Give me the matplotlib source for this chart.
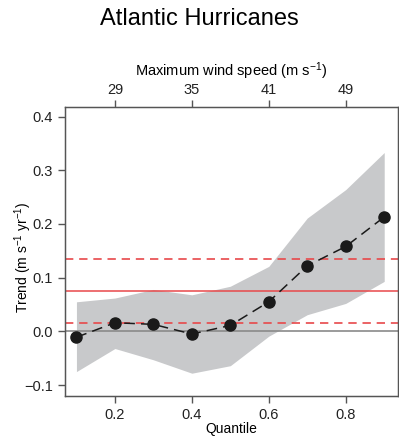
import matplotlib
matplotlib.use("Agg")
import matplotlib.pyplot as plt

plt.rcParams['font.family'] = ['Liberation Sans', 'DejaVu Sans']
plt.rcParams['mathtext.fontset'] = 'custom'
plt.rcParams['mathtext.rm'] = 'Liberation Sans'
plt.rcParams['mathtext.default'] = 'regular'

# quantiles and trend estimates
quantile = [0.1, 0.2, 0.3, 0.4, 0.5, 0.6, 0.7, 0.8, 0.9]
trend = [-0.011, 0.016, 0.013, -0.005, 0.011, 0.055, 0.122, 0.158, 0.213]
upper = [0.055, 0.062, 0.078, 0.068, 0.084, 0.121, 0.211, 0.264, 0.333]
lower = [-0.075, -0.032, -0.053, -0.078, -0.064, -0.009, 0.031, 0.052, 0.093]

mean_trend = 0.075
mean_ci = [0.015, 0.135]

top_ticks = [0.2, 0.4, 0.6, 0.8]
top_labels = ['29', '35', '41', '49']

fig = plt.figure(figsize=(3.99, 4.42), dpi=100)
ax = fig.add_axes([0.1617, 0.104, 0.835, 0.655])

ax.fill_between(quantile, lower, upper, color='#c8c9cb', lw=0, zorder=1)
ax.axhline(0, color='#8a8a8a', lw=1.2, zorder=2)
ax.axhline(mean_trend, color='#e8484a', lw=1.1, zorder=2)
for v in mean_ci:
    ax.axhline(v, color='#e8484a', lw=1.2, ls=(0, (5, 3.5)), zorder=2)
ax.plot(quantile, trend, color='#1a1a1a', lw=1.1, ls=(0, (7, 4)), zorder=3)
ax.plot(quantile, trend, 'o', color='#1a1a1a', ms=8, zorder=4)

ax.set_xlim(0.069, 0.935)
ax.set_ylim(-0.1205, 0.4187)
ax.set_xticks([0.2, 0.4, 0.6, 0.8])
ax.set_yticks([-0.1, 0.0, 0.1, 0.2, 0.3, 0.4])
ax.set_yticklabels(['\u22120.1', '0.0', '0.1', '0.2', '0.3', '0.4'])
ax.set_xlabel('Quantile', fontsize=10, labelpad=0)
ax.set_ylabel('Trend (m s$^{\u22121}$ yr$^{\u22121}$)', fontsize=10)
ax.yaxis.set_label_coords(-0.092, 0.48)

for s in ax.spines.values():
    s.set_color('#555555')
    s.set_linewidth(1.0)
ax.tick_params(colors='#555555', labelcolor='#222222', labelsize=10.5, length=5, width=1)

top = ax.twiny()
top.set_xlim(ax.get_xlim())
top.set_xticks(top_ticks)
top.set_xticklabels(top_labels)
top.set_xlabel('Maximum wind speed (m s$^{\u22121}$)', fontsize=10.5, labelpad=5)
top.tick_params(colors='#555555', labelcolor='#222222', labelsize=10.5, length=5, width=1, pad=2)
for s in top.spines.values():
    s.set_color('#555555')

fig.text(0.5, 0.957, 'Atlantic Hurricanes', ha='center', va='center', fontsize=17)

fig.savefig('out.png', dpi=100)
